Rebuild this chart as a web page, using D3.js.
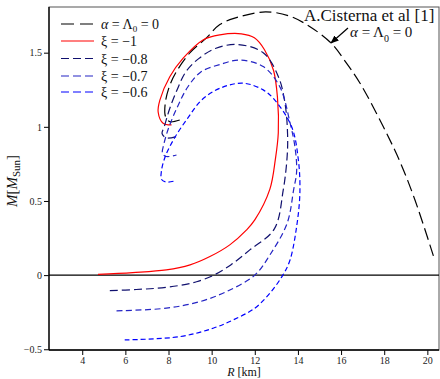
<!DOCTYPE html>
<html>
<head>
<meta charset="utf-8">
<script src="https://cdn.jsdelivr.net/npm/d3@7"></script>
<style>
  body { margin: 0; background: #fff; }
  text { font-family: 'Liberation Serif', 'DejaVu Serif', serif; }
</style>
</head>
<body>
<svg id="chart" width="440" height="379"></svg>
<script>
// curves, R [km] and M [M_sun]
const gr0R = [20.28, 19.43, 18.73, 17.96, 16.88, 16.2, 15.53, 14.56, 13.63, 12.5, 11.31, 10.38, 9.76, 9.0, 8.4, 8.06, 7.85, 7.86, 8.06, 8.6];
const gr0M = [0.13, 0.505, 0.765, 1.0, 1.294, 1.44, 1.566, 1.675, 1.746, 1.775, 1.743, 1.69, 1.6, 1.5, 1.38, 1.28, 1.16, 1.07, 1.035, 1.05];

const xi10R = [4.73, 6.34, 7.9, 9.0, 9.92, 10.84, 11.62, 12.0, 12.7, 12.95, 13.09, 13.05, 12.87, 12.45, 11.98, 11.38, 10.38, 9.6, 8.68, 8.06, 7.6, 7.52, 7.75, 8.14];
const xi10M = [0.005, 0.017, 0.035, 0.069, 0.125, 0.204, 0.305, 0.372, 0.58, 0.777, 0.96, 1.2, 1.38, 1.52, 1.6, 1.627, 1.62, 1.586, 1.463, 1.338, 1.18, 1.1, 1.024, 1.013];

const xi08R = [5.28, 6.5, 7.5, 8.5, 9.3, 10.1, 10.9, 11.77, 12.9, 13.32, 13.5, 13.52, 13.4, 13.09, 12.39, 11.2, 10.2, 9.4, 8.8, 8.4, 8.05, 7.8, 7.7, 7.9, 8.37];
const xi08M = [-0.105, -0.097, -0.088, -0.07, -0.045, 0.0, 0.07, 0.17, 0.31, 0.575, 0.8, 0.95, 1.16, 1.34, 1.5, 1.555, 1.53, 1.46, 1.37, 1.25, 1.12, 1.0, 0.955, 0.925, 0.935];

const xi07R = [5.59, 7.9, 9.45, 10.69, 12.0, 12.7, 13.5, 13.8, 13.94, 13.86, 13.63, 13.16, 12.39, 11.31, 10.38, 9.5, 8.9, 8.4, 8.0, 7.78, 7.72, 7.9, 8.37];
const xi07M = [-0.241, -0.223, -0.179, -0.111, 0.0, 0.136, 0.35, 0.575, 0.7, 0.866, 1.03, 1.27, 1.406, 1.45, 1.42, 1.37, 1.27, 1.13, 0.99, 0.88, 0.82, 0.8, 0.81];

const xi06R = [5.97, 8.52, 10.07, 11.0, 12.0, 12.7, 13.3, 13.63, 13.94, 14.09, 14.02, 13.71, 12.93, 12.39, 11.46, 10.38, 9.53, 8.9, 8.3, 7.85, 7.67, 7.68, 7.9, 8.3];
const xi06M = [-0.437, -0.415, -0.358, -0.302, -0.223, -0.122, 0.0, 0.1, 0.327, 0.552, 0.777, 1.0, 1.18, 1.249, 1.294, 1.26, 1.18, 1.06, 0.93, 0.8, 0.7, 0.645, 0.628, 0.635];

const xTicks = [4, 6, 8, 10, 12, 14, 16, 18, 20];
const yTicks = [-0.5, 0, 0.5, 1, 1.5];

const series = [
  {key: 'gr',   r: gr0R,  m: gr0M,  color: '#000000', dash: '12,5',  legendDash: '13,6'},
  {key: '-1',   r: xi10R, m: xi10M, color: '#ff0000', dash: null,    legendDash: null},
  {key: '-0.8', r: xi08R, m: xi08M, color: '#10106e', dash: '8,4',   legendDash: '8,4'},
  {key: '-0.7', r: xi07R, m: xi07M, color: '#2424c4', dash: '6,3.5', legendDash: '8,4'},
  {key: '-0.6', r: xi06R, m: xi06M, color: '#0000ff', dash: '5,3',   legendDash: '8,4'}
];

const margin = {top: 7, right: 1, bottom: 29, left: 49};
const width  = 440;
const height = 379;
const serif  = "'Liberation Serif', 'DejaVu Serif', serif";

const svg = d3.select('#chart');

const x = d3.scaleLinear()
  .domain([2.46, 20.54])
  .range([margin.left, width - margin.right]);

const y = d3.scaleLinear()
  .domain([-0.505, 1.808])
  .range([height - margin.bottom, margin.top]);

// axes, major + minor ticks
const xAxis = svg.append('g')
  .attr('transform', `translate(0,${height - margin.bottom})`);
xAxis.call(d3.axisBottom(x).tickValues(d3.range(3, 21, 1)).tickSize(4).tickFormat(''));
xAxis.call(d3.axisBottom(x).tickValues(xTicks).tickSize(5).tickPadding(2).tickFormat(d3.format('d')));

const yAxis = svg.append('g')
  .attr('transform', `translate(${margin.left},0)`);
yAxis.call(d3.axisLeft(y).tickValues(d3.range(-4, 18, 1).map(d => d / 10)).tickSize(3).tickFormat(''));
yAxis.call(d3.axisLeft(y).tickValues(yTicks).tickSize(5).tickPadding(2).tickFormat(d => d === 0 ? '0' : d3.format('.1~f')(d).replace('-', '\u2212')));

xAxis.attr('font-family', serif).attr('font-size', 10);
yAxis.attr('font-family', serif).attr('font-size', 10);
svg.selectAll('.domain').remove();
svg.selectAll('.tick line').attr('stroke', '#000');
svg.selectAll('.tick text').attr('fill', '#222');

// frame
svg.append('rect')
  .attr('x', margin.left)
  .attr('y', margin.top)
  .attr('width', width - margin.left - margin.right)
  .attr('height', height - margin.top - margin.bottom)
  .attr('fill', 'none')
  .attr('stroke', '#555')
  .attr('stroke-width', 1);

svg.append('line')
  .attr('x1', margin.left).attr('x2', width - margin.right)
  .attr('y1', height - margin.bottom).attr('y2', height - margin.bottom)
  .attr('stroke', '#000').attr('stroke-width', 1.3);
svg.append('line')
  .attr('x1', margin.left).attr('x2', margin.left)
  .attr('y1', margin.top).attr('y2', height - margin.bottom)
  .attr('stroke', '#000').attr('stroke-width', 1.3);

// M = 0 line
svg.append('line')
  .attr('x1', margin.left).attr('x2', width - margin.right)
  .attr('y1', y(0)).attr('y2', y(0))
  .attr('stroke', '#000').attr('stroke-width', 1.1);

const line = d3.line()
  .x(d => x(d[0]))
  .y(d => y(d[1]))
  .curve(d3.curveCatmullRom.alpha(0.5));

svg.append('g')
  .selectAll('path')
  .data(series)
  .enter()
  .append('path')
  .attr('d', s => line(s.r.map((r, i) => [r, s.m[i]])))
  .attr('fill', 'none')
  .attr('stroke', s => s.color)
  .attr('stroke-width', 1.2)
  .attr('stroke-dasharray', s => s.dash);

// legend
const legend = svg.append('g').attr('class', 'legend');
const legendY = [24, 41, 58.5, 76, 92];

series.forEach((s, i) => {
  legend.append('line')
    .attr('x1', 61).attr('x2', 94)
    .attr('y1', legendY[i]).attr('y2', legendY[i])
    .attr('stroke', s.color)
    .attr('stroke-width', 1.2)
    .attr('stroke-dasharray', s.legendDash);

  const t = legend.append('text')
    .attr('x', 101)
    .attr('y', legendY[i] + 5)
    .attr('font-size', 14)
    .attr('fill', '#111');

  if (s.key === 'gr') {
    t.append('tspan').attr('font-style', 'italic').text('\u03b1');
    t.append('tspan').text(' = \u039b');
    t.append('tspan').attr('dy', 3).attr('font-size', 9).text('0');
    t.append('tspan').attr('dy', -3).text(' = 0');
  } else {
    t.append('tspan').text('\u03be = ' + s.key.replace('-', '\u2212'));
  }
});

// annotation
svg.append('text')
  .attr('x', 304)
  .attr('y', 21)
  .attr('font-size', 17)
  .attr('fill', '#111')
  .text('A.Cisterna et al [1]');

const ann = svg.append('text')
  .attr('x', 350)
  .attr('y', 37)
  .attr('font-size', 15)
  .attr('fill', '#111');
ann.append('tspan').attr('font-style', 'italic').text('\u03b1');
ann.append('tspan').text(' = \u039b');
ann.append('tspan').attr('dy', 5).attr('font-size', 10).text('0');
ann.append('tspan').attr('dy', -5).text(' = 0');

svg.append('defs').append('marker')
  .attr('id', 'arrow')
  .attr('viewBox', '0 0 10 10')
  .attr('refX', 9).attr('refY', 5)
  .attr('markerWidth', 7).attr('markerHeight', 7)
  .attr('orient', 'auto')
  .append('path')
  .attr('d', 'M0,1 L10,5 L0,9 z')
  .attr('fill', '#000');

svg.append('line')
  .attr('x1', 348).attr('y1', 28)
  .attr('x2', 331).attr('y2', 43)
  .attr('stroke', '#000')
  .attr('stroke-width', 1.2)
  .attr('marker-end', 'url(#arrow)');

// axis titles
const xLabel = svg.append('text')
  .attr('x', 244)
  .attr('y', 376)
  .attr('text-anchor', 'middle')
  .attr('font-size', 12)
  .attr('fill', '#111');
xLabel.append('tspan').attr('font-style', 'italic').text('R');
xLabel.append('tspan').text(' [km]');

const yLabel = svg.append('text')
  .attr('transform', 'translate(17,181) rotate(-90)')
  .attr('text-anchor', 'middle')
  .attr('font-size', 15)
  .attr('fill', '#111');
yLabel.append('tspan').attr('font-style', 'italic').text('M');
yLabel.append('tspan').text('[');
yLabel.append('tspan').attr('font-style', 'italic').text('M');
yLabel.append('tspan').attr('dy', 3).attr('font-size', 11).text('Sun');
yLabel.append('tspan').attr('dy', -3).text(']');
</script>
</body>
</html>
